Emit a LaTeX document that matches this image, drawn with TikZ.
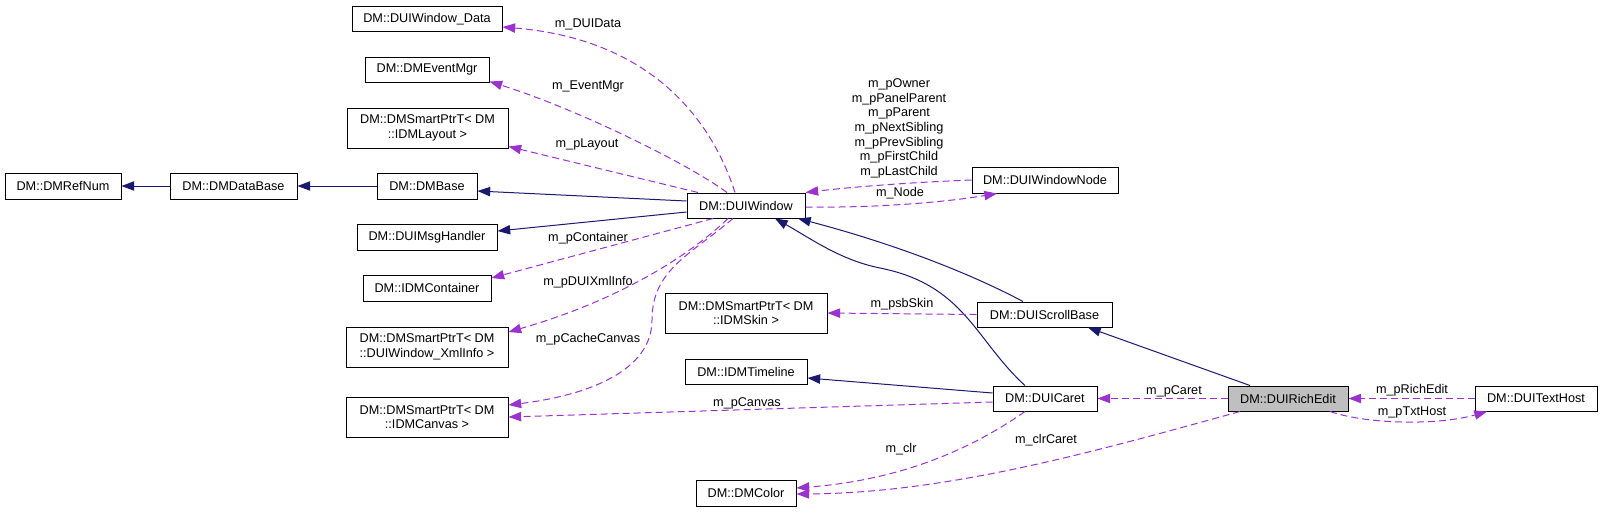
\documentclass[tikz,border=0pt]{standalone}
\usepackage{fontspec}
\setmainfont{Liberation Sans}
\usetikzlibrary{arrows.meta,calc}
\definecolor{inhcol}{HTML}{191970}
\definecolor{usecol}{HTML}{9A32CD}
\definecolor{selcol}{HTML}{BFBFBF}
\begin{document}
\begin{tikzpicture}[x=0.75pt,y=-0.75pt,
  box/.style={draw=black, line width=0.75pt, inner sep=0pt, align=center, font=\fontsize{9.5}{11}\selectfont},
  sz/.style 2 args={minimum width=#1*0.75pt, minimum height=#2*0.75pt},
  lbl/.style={inner sep=0pt, align=center, font=\fontsize{9.5}{11}\selectfont},
  inh/.style={draw=inhcol, line width=0.75pt, -{Triangle[length=9.5pt,width=7pt]}},
  use/.style={draw=usecol, line width=0.75pt, dash pattern=on 5.25pt off 3pt, -{Triangle[length=9.5pt,width=7pt]}}
]
\useasboundingbox (0,0) rectangle (1603,512);

% nodes
\node[box, sz={116}{26}] (refnum) at (63,186) {DM::DMRefNum};
\node[box, sz={127}{26}] (database) at (233.5,186) {DM::DMDataBase};
\node[box, sz={100}{26}] (dmbase) at (427,186) {DM::DMBase};
\node[box, sz={150}{25}] (wdata) at (427,19) {DM::DUIWindow\_Data};
\node[box, sz={124}{25}] (eventmgr) at (427,69.5) {DM::DMEventMgr};
\node[box, sz={161}{40}] (layout) at (427.5,128) {DM::DMSmartPtrT< DM\\::IDMLayout >};
\node[box, sz={140}{26}] (msghandler) at (427,237) {DM::DUIMsgHandler};
\node[box, sz={128}{26}] (container) at (427,288) {DM::IDMContainer};
\node[box, sz={162}{40}] (xmlinfo) at (427,347) {DM::DMSmartPtrT< DM\\::DUIWindow\_XmlInfo >};
\node[box, sz={162}{40}] (canvas) at (427,417) {DM::DMSmartPtrT< DM\\::IDMCanvas >};
\node[box, sz={118}{25}] (duiwindow) at (746,205.5) {DM::DUIWindow};
\node[box, sz={146}{26}] (windownode) at (1045,180) {DM::DUIWindowNode};
\node[box, sz={162}{40}] (skin) at (746,313) {DM::DMSmartPtrT< DM\\::IDMSkin >};
\node[box, sz={122}{25}] (timeline) at (746,371.5) {DM::IDMTimeline};
\node[box, sz={100}{26}] (dmcolor) at (746,493) {DM::DMColor};
\node[box, sz={135}{25}] (scrollbase) at (1044.5,314.5) {DM::DUIScrollBase};
\node[box, sz={104}{25}] (caret) at (1045,398.5) {DM::DUICaret};
\node[box, sz={120}{25}, fill=selcol] (richedit) at (1288,398.5) {DM::DUIRichEdit};
\node[box, sz={122}{25}] (texthost) at (1536,398.5) {DM::DUITextHost};

% inheritance
\draw[inh] (database.west) -- (refnum.east);
\draw[inh] (dmbase.west) -- (database.east);
\draw[inh] ($(duiwindow.west)+(0,-4.5)$) -- ($(dmbase.east)+(0,5)$);
\draw[inh] ($(duiwindow.west)+(0,6.5)$) -- ($(msghandler.east)+(0,-6)$);
\draw[inh] ($(scrollbase.north)+(-21.5,0)$) .. controls (960,268) and (880,240) .. ($(duiwindow.south)+(52,0)$);
\draw[inh] ($(caret.north)+(-20,0)$) .. controls (975,340) and (965,285) .. (880,268) .. controls (840,260) and (810,238) .. ($(duiwindow.south)+(29,0)$);
\draw[inh] ($(richedit.north)+(-38,0)$) -- ($(scrollbase.south)+(43.5,0)$);
\draw[inh] ($(caret.west)+(0,-5.5)$) -- ($(timeline.east)+(0,6.5)$);

% usage
\draw[use] ($(duiwindow.north)+(-11,0)$) .. controls (715,130) and (660,40) .. ($(wdata.east)+(0,8)$);
\draw[use] ($(duiwindow.north)+(-19,0)$) .. controls (690,165) and (580,110) .. ($(eventmgr.south east)+(0,-1)$);
\draw[use] ($(duiwindow.north)+(-48,0)$) -- ($(layout.south east)+(0,-2)$);
\draw[use] ($(duiwindow.south)+(-33,0)$) -- ($(container.east)+(0,-10)$);
\draw[use] ($(duiwindow.south)+(-18,0)$) .. controls (690,255) and (620,300) .. ($(xmlinfo.east)+(0,-15)$);
\draw[use] ($(duiwindow.south)+(-13,0)$) .. controls (690,255) and (652,270) .. (652,320) .. controls (652,370) and (590,395) .. ($(canvas.east)+(0,-12)$);
\draw[use] (windownode.west) .. controls (920,182) and (860,186) .. (duiwindow.north east);
\draw[use] ($(duiwindow.east)+(0,1.5)$) .. controls (870,208) and (940,203) .. ($(windownode.south)+(-48,0)$);
\draw[use] (scrollbase.west) -- (skin.east);
\draw[use] ($(caret.west)+(0,3.5)$) -- (canvas.east);
\draw[use] ($(caret.south)+(-20,0)$) .. controls (970,450) and (900,480) .. ($(dmcolor.east)+(0,-5)$);
\draw[use] ($(richedit.south)+(-48,0)$) .. controls (1100,450) and (950,493) .. ($(dmcolor.east)+(0,1)$);
\draw[use] (richedit.west) -- (caret.east);
\draw[use] (texthost.west) -- (richedit.east);
\draw[use] ($(richedit.south)+(42,0)$) .. controls (1370,425) and (1440,425) .. ($(texthost.south)+(-49,0)$);

% labels
\node[lbl] (l1) at (588,24) {m\_DUIData};
\node[lbl] (l2) at (588,86) {m\_EventMgr};
\node[lbl] (l3) at (587,144) {m\_pLayout};
\node[lbl] (l4) at (588,238) {m\_pContainer};
\node[lbl] (l5) at (588,282) {m\_pDUIXmlInfo};
\node[lbl] (l6) at (588,339) {m\_pCacheCanvas};
\node[lbl] (l7) at (747,403) {m\_pCanvas};
\node[lbl] (l8) at (899,128.3) {m\_pOwner\\m\_pPanelParent\\m\_pParent\\m\_pNextSibling\\m\_pPrevSibling\\m\_pFirstChild\\m\_pLastChild};
\node[lbl] (l9) at (900,193) {m\_Node};
\node[lbl] (l10) at (902,304) {m\_psbSkin};
\node[lbl] (l11) at (1174,391) {m\_pCaret};
\node[lbl] (l12) at (1412,390) {m\_pRichEdit};
\node[lbl] (l13) at (1412,412) {m\_pTxtHost};
\node[lbl] (l14) at (1046,440) {m\_clrCaret};
\node[lbl] (l15) at (901,449) {m\_clr};
\end{tikzpicture}
\end{document}
